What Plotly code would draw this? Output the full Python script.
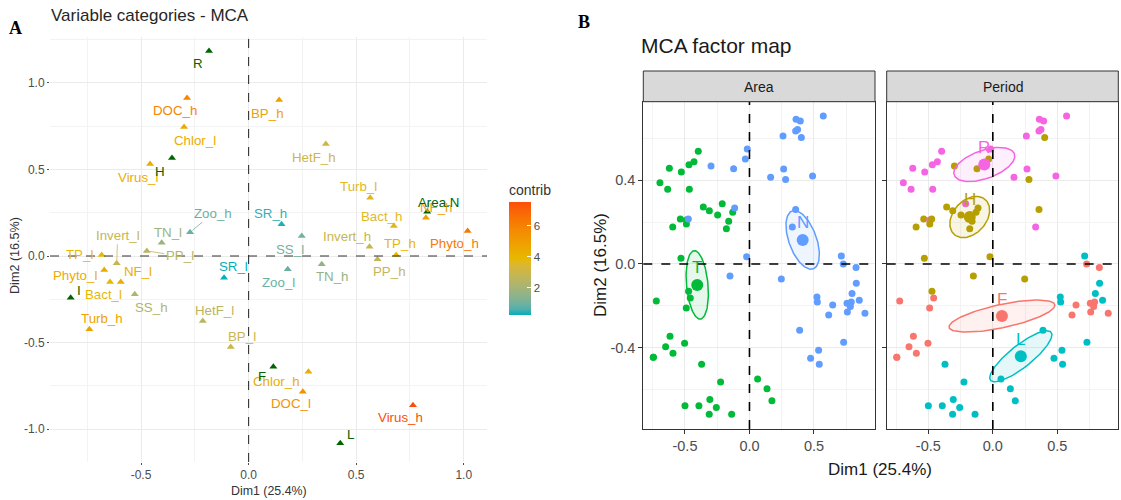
import numpy as np
import plotly.graph_objects as go

W, H = 1121, 500

# ---------------- Panel A: variable categories ----------------
cat_names = ["DOC_h", "Chlor_l", "Virus_l", "BP_h", "HetF_h", "Turb_l", "Bact_h", "NF_h",
             "Phyto_h", "TP_h", "Invert_h", "PP_h", "SS_l", "SR_h", "Zoo_l", "TN_h",
             "Zoo_h", "TN_l", "PP_l", "Invert_l", "TP_l", "Phyto_l", "NF_l", "Bact_l",
             "SS_h", "Turb_h", "HetF_l", "BP_l", "SR_l", "Chlor_h", "DOC_l", "Virus_h"]
cat_x = [-0.286, -0.300, -0.458, 0.142, 0.359, 0.565, 0.675, 0.824,
         1.018, 0.686, 0.562, 0.599, 0.247, 0.153, 0.182, 0.340,
         -0.272, -0.404, -0.473, -0.613, -0.683, -0.671, -0.594, -0.644,
         -0.529, -0.740, -0.213, -0.083, -0.114, 0.278, 0.252, 0.764]
cat_y = [0.912, 0.744, 0.531, 0.900, 0.646, 0.336, 0.173, 0.221,
         0.144, 0.006, 0.054, -0.019, 0.115, 0.183, -0.077, -0.048,
         0.137, 0.077, 0.029, -0.042, 0.006, -0.081, -0.150, -0.150,
         -0.221, -0.423, -0.375, -0.525, -0.125, -0.668, -0.783, -0.862]
cat_contrib = [5.9, 4.4, 4.3, 4.8, 3.1, 3.7, 3.7, 4.8,
               6.3, 4.0, 2.9, 2.8, 1.1, 0.4, 0.9, 1.6,
               0.9, 1.8, 2.5, 2.9, 3.9, 4.4, 4.3, 3.9,
               2.3, 4.8, 2.5, 3.0, 0.25, 4.3, 5.4, 7.55]

sup_names = ["R", "H", "I", "F", "L", "Area.N"]
sup_x = [-0.184, -0.356, -0.827, 0.115, 0.426, 0.830]
sup_y = [1.183, 0.565, -0.241, -0.639, -1.081, 0.256]

contrib_ticks = [2, 4, 6]
a_xticks = [-0.5, 0.0, 0.5, 1.0]
a_xtick_text = ["-0.5", "0.0", "0.5", "1.0"]
a_yticks = [-1.0, -0.5, 0.0, 0.5, 1.0]
a_ytick_text = ["-1.0", "-0.5", "0.0", "0.5", "1.0"]

# ---------------- Panel B: individuals ----------------
ind_x = [-0.694, -0.634, -0.621, -0.528, -0.466, -0.469, -0.430, -0.397, -0.358, -0.311,
         -0.247, -0.211, -0.130, -0.161, -0.179, -0.536, -0.489, -0.489, -0.595, -0.531,
         -0.472, -0.459, -0.490, -0.722, -0.616, -0.650, -0.593, -0.503, -0.745, -0.745,
         -0.371, -0.224, 0.063, 0.136, 0.174, -0.500, -0.392, -0.307, -0.257, -0.312,
         -0.138,
         -0.298, -0.123, -0.032, -0.017, -0.115, -0.474, -0.022, 0.361, 0.394, 0.358,
         0.373, 0.402, 0.260, 0.572, 0.265, 0.164, 0.280, 0.489, 0.358, 0.332,
         0.712, 0.727, 0.826, -0.151, 0.247, 0.828, 0.795, 0.851, 0.523, 0.526,
         0.645, 0.614, 0.756, 0.789, 0.782, 0.759, 0.895, 0.389, 0.730, 0.536,
         0.474, 0.541]
ind_y = [0.387, 0.356, 0.456, 0.438, 0.356, 0.473, 0.487, 0.537, 0.271, 0.254,
         0.233, 0.287, 0.246, 0.203, 0.168, 0.214, 0.210, 0.190, 0.176, 0.027,
         -0.130, -0.162, -0.210, -0.176, -0.344, -0.394, -0.425, -0.378, -0.444, -0.444,
         -0.478, -0.562, -0.548, -0.594, -0.652, -0.675, -0.675, -0.646, -0.683, -0.716,
         -0.716,
         0.467, 0.454, 0.500, 0.548, 0.267, 0.214, 0.035, 0.690, 0.681, 0.633,
         0.641, 0.603, 0.610, 0.705, 0.452, 0.413, 0.402, 0.419, 0.260, 0.176,
         0.038, 0.000, -0.017, -0.057, -0.071, -0.092, -0.140, -0.173, -0.157, -0.181,
         -0.195, -0.243, -0.187, -0.181, -0.202, -0.229, -0.235, -0.316, -0.373, -0.411,
         -0.449, -0.478]
ind_area = ["T"] * 41 + ["N"] * 42
ind_period = ["R", "R", "R", "R", "R", "R", "R", "R", "H", "H",
              "H", "R", "H", "H", "H", "H", "R", "H", "H", "H",
              "H", "F", "F", "F", "F", "F", "F", "F", "F", "F",
              "L", "L", "L", "L", "L", "L", "L", "L", "L", "L",
              "L",
              "H", "H", "H", "R", "H", "H", "H", "R", "R", "R",
              "R", "H", "R", "R", "R", "R", "H", "R", "H", "R",
              "L", "F", "F", "H", "H", "L", "L", "L", "L", "L",
              "F", "F", "F", "F", "F", "F", "F", "L", "L", "L",
              "L", "L"]
area_levels = ["N", "T"]
period_levels = ["F", "H", "L", "R"]
b_xticks = [-0.5, 0.0, 0.5]
b_xtick_text = ["-0.5", "0.0", "0.5"]
b_yticks = [-0.4, 0.0, 0.4]
b_ytick_text = ["-0.4", "0.0", "0.4"]

dim1_label = "Dim1 (25.4%)"
dim2_label = "Dim2 (16.5%)"

# ---------------- styles ----------------
FONT = "Liberation Sans, Arial, sans-serif"
grad_cols = ["#00AFBB", "#E7B800", "#FC4E07"]
group_cols = {"N": "#619CFF", "T": "#00BA38", "F": "#F8766D", "H": "#B79F00",
              "L": "#00BFC4", "R": "#F564E3"}
SUP_COL = "#006400"

# label offsets in pixels (dx, dy downward, leader segment)
label_off = {
    "R": (-11, 12, False), "DOC_h": (-12, 13, False), "Chlor_l": (11, 13, False),
    "H": (-12, 13, False), "Virus_l": (-12, 14, False), "Zoo_h": (23, -19, True),
    "TP_l": (-22, 0, False), "Invert_l": (1, -28, True), "PP_l": (33, 5, True),
    "TN_l": (6, -10, False), "Phyto_l": (-29, 5, False), "NF_l": (17, -10, False),
    "Bact_l": (-7, 13, False), "I": (8, -7, False), "SS_h": (17, 13, False),
    "Turb_h": (13, -11, False), "HetF_l": (12, -10, False), "BP_l": (11, -10, False),
    "SR_l": (9, -11, False), "F": (-11, 10, False), "Chlor_h": (-32, 10, False),
    "DOC_l": (-12, 12, False), "Virus_h": (-12, 12, False), "L": (10, -9, False),
    "Zoo_l": (-9, 13, False), "TN_h": (11, 12, False), "SS_l": (-12, 13, False),
    "SR_h": (-11, -11, False), "Invert_h": (-23, -10, False), "PP_h": (12, 12, False),
    "TP_h": (4, -11, False), "Phyto_h": (-13, 12, False), "Bact_h": (-12, -10, False),
    "Turb_l": (-12, -11, False), "NF_h": (11, -10, False), "Area.N": (11, -9, False),
    "BP_h": (-12, 13, False), "HetF_h": (-12, 13, False),
}


# ---- Lab-space gradient like ggplot's gradientn ----
def hex2rgb(h):
    h = h.lstrip("#")
    return np.array([int(h[i:i + 2], 16) for i in (0, 2, 4)], float)


M = np.array([[0.4124, 0.3576, 0.1805], [0.2126, 0.7152, 0.0722], [0.0193, 0.1192, 0.9505]])
WP = np.array([0.95047, 1.0, 1.08883])


def rgb2lab(rgb):
    c = rgb / 255.0
    c = np.where(c <= 0.04045, c / 12.92, ((c + 0.055) / 1.055) ** 2.4)
    xyz = M @ c / WP
    f = np.where(xyz > 0.008856, np.cbrt(xyz), 7.787 * xyz + 16 / 116)
    return np.array([116 * f[1] - 16, 500 * (f[0] - f[1]), 200 * (f[1] - f[2])])


def lab2rgb(lab):
    fy = (lab[0] + 16) / 116
    fx = fy + lab[1] / 500
    fz = fy - lab[2] / 200
    f = np.array([fx, fy, fz])
    xyz = np.where(f ** 3 > 0.008856, f ** 3, (f - 16 / 116) / 7.787) * WP
    c = np.linalg.solve(M, xyz)
    c = np.clip(c, 0, 1)
    c = np.where(c <= 0.0031308, 12.92 * c, 1.055 * c ** (1 / 2.4) - 0.055)
    return np.clip(np.round(c * 255), 0, 255).astype(int)


labs = [rgb2lab(hex2rgb(c)) for c in grad_cols]


def grad(t):
    t = min(max(t, 0.0), 1.0)
    if t <= 0.5:
        a, b, u = labs[0], labs[1], t / 0.5
    else:
        a, b, u = labs[1], labs[2], (t - 0.5) / 0.5
    r, g, bb = lab2rgb(a + (b - a) * u)
    return f"rgb({r},{g},{bb})"


cmin, cmax = min(cat_contrib), max(cat_contrib)
cscale = [[i / 20, grad(i / 20)] for i in range(21)]


def ccol(v):
    return grad((v - cmin) / (cmax - cmin))


fig = go.Figure()

# ---------------- Panel A traces ----------------
fig.add_trace(go.Scatter(
    x=cat_x, y=cat_y, mode="markers", xaxis="x", yaxis="y",
    marker=dict(symbol="triangle-up", size=7, color=cat_contrib, colorscale=cscale,
                cmin=cmin, cmax=cmax, showscale=True,
                colorbar=dict(x=509 / W, xanchor="left", xpad=0, ypad=0,
                              y=1 - 315 / H, yanchor="bottom",
                              len=134, lenmode="pixels", thickness=22, outlinewidth=0,
                              tickvals=contrib_ticks, ticks="inside", ticklen=4,
                              tickcolor="white", tickfont=dict(size=11.5, color="#4D4D4D", family=FONT),
                              title=dict(text="contrib", side="top",
                                         font=dict(size=14, color="#333333", family=FONT)))),
    hoverinfo="text", text=cat_names))
fig.add_trace(go.Scatter(
    x=sup_x, y=sup_y, mode="markers", xaxis="x", yaxis="y",
    marker=dict(symbol="triangle-up", size=7, color=SUP_COL), hoverinfo="text", text=sup_names))

annotations = []
for names, xs, ys, cols in [(cat_names, cat_x, cat_y, [ccol(v) for v in cat_contrib]),
                            (sup_names, sup_x, sup_y, [SUP_COL] * len(sup_names))]:
    for n, x, y, c in zip(names, xs, ys, cols):
        dx, dy, seg = label_off[n]
        annotations.append(dict(
            x=x, y=y, xref="x", yref="y", text=n, showarrow=True, ax=dx, ay=dy,
            arrowhead=0, arrowwidth=0.8, standoff=3,
            arrowcolor=c if seg else "rgba(0,0,0,0)",
            font=dict(size=13.3, color=c, family=FONT)))

# ---------------- Panel B traces ----------------
R95 = np.sqrt(5.991464547)


def conf_ellipse(xs, ys, n=120):
    X = np.column_stack([xs, ys])
    c = X.mean(axis=0)
    S = np.cov(X.T) / len(xs)
    vals, vecs = np.linalg.eigh(S)
    t = np.linspace(0, 2 * np.pi, n)
    circ = np.vstack([np.cos(t), np.sin(t)])
    pts = c[:, None] + R95 * (vecs @ (np.sqrt(vals)[:, None] * circ))
    return c, pts[0], pts[1]


def rgba(h, a):
    r, g, b = hex2rgb(h).astype(int)
    return f"rgba({r},{g},{b},{a})"


ix = np.array(ind_x)
iy = np.array(ind_y)
for axn, groups, levels in [("2", ind_area, area_levels), ("3", ind_period, period_levels)]:
    g = np.array(groups)
    fig.add_trace(go.Scatter(
        x=ix, y=iy, mode="markers", xaxis="x" + axn, yaxis="y" + axn,
        marker=dict(size=7, color=[group_cols[v] for v in groups]), hoverinfo="skip"))
    for lev in levels:
        m = g == lev
        c, ex, ey = conf_ellipse(ix[m], iy[m])
        col = group_cols[lev]
        fig.add_trace(go.Scatter(
            x=ex, y=ey, mode="lines", fill="toself", fillcolor=rgba(col, 0.1),
            line=dict(color=col, width=1.5), xaxis="x" + axn, yaxis="y" + axn, hoverinfo="skip"))
        fig.add_trace(go.Scatter(
            x=[c[0]], y=[c[1]], mode="markers", marker=dict(size=12, color=col),
            xaxis="x" + axn, yaxis="y" + axn, hoverinfo="skip"))
        annotations.append(dict(
            x=c[0], y=c[1], xref="x" + axn, yref="y" + axn, text=lev, showarrow=False,
            yshift=17, font=dict(size=17, color=col, family=FONT)))

# ---------------- axes ----------------
gridA = dict(showgrid=True, gridcolor="#EBEBEB", gridwidth=1, zeroline=False, showline=False,
             ticks="outside", ticklen=2, tickcolor="#4D4D4D",
             tickfont=dict(size=12, color="#4D4D4D", family=FONT))
ax_range_B = [-0.823, 0.973]
ay_range_B = [-0.786, 0.773]
gridB = dict(showgrid=True, gridcolor="#EBEBEB", gridwidth=1, zeroline=False, showline=True,
             mirror=True, linecolor="#333333", linewidth=1, ticks="outside", ticklen=4,
             tickcolor="#333333", tickfont=dict(size=14.5, color="#4D4D4D", family=FONT))
minorA = dict(dtick=0.25, tick0=0, showgrid=True, gridcolor="#F3F3F3", gridwidth=0.6)
minorBx = dict(dtick=0.25, tick0=0, showgrid=True, gridcolor="#F3F3F3", gridwidth=0.6)
minorBy = dict(dtick=0.2, tick0=0, showgrid=True, gridcolor="#F3F3F3", gridwidth=0.6)

fig.update_layout(
    width=W, height=H, margin=dict(l=0, r=0, t=0, b=0),
    paper_bgcolor="white", plot_bgcolor="white", showlegend=False,
    font=dict(family=FONT),
    xaxis=dict(domain=[50 / W, 487 / W], range=[-0.923, 1.108], tickmode="array",
               tickvals=a_xticks, ticktext=a_xtick_text, minor=minorA, anchor="y", **gridA),
    yaxis=dict(domain=[1 - 462 / H, 1 - 37 / H], range=[-1.189, 1.264], tickmode="array",
               tickvals=a_yticks, ticktext=a_ytick_text, minor=minorA, anchor="x", **gridA),
    xaxis2=dict(domain=[643.3 / W, 875 / W], range=ax_range_B, tickmode="array",
                tickvals=b_xticks, ticktext=b_xtick_text, minor=minorBx, anchor="y2", **gridB),
    yaxis2=dict(domain=[1 - 429 / H, 1 - 101.7 / H], range=ay_range_B, tickmode="array",
                tickvals=b_yticks, ticktext=b_ytick_text, minor=minorBy, anchor="x2", **gridB),
    xaxis3=dict(domain=[886.7 / W, 1118.3 / W], range=ax_range_B, tickmode="array",
                tickvals=b_xticks, ticktext=b_xtick_text, minor=minorBx, anchor="y3", **gridB),
    yaxis3=dict(domain=[1 - 429 / H, 1 - 101.7 / H], range=ay_range_B, tickmode="array",
                tickvals=b_yticks, ticktext=b_ytick_text, minor=minorBy, anchor="x3",
                showticklabels=False, **gridB),
)

shapes = []
# dashed reference lines
shapes.append(dict(type="line", xref="x", yref="y domain", x0=0, x1=0, y0=0, y1=1,
                   line=dict(color="#333333", width=1.1, dash="dash")))
shapes.append(dict(type="line", xref="x domain", yref="y", x0=0, x1=1, y0=0, y1=0,
                   line=dict(color="#333333", width=1.1, dash="dash")))
for axn in ["2", "3"]:
    shapes.append(dict(type="line", xref="x" + axn, yref="y" + axn + " domain", x0=0, x1=0, y0=0, y1=1,
                       line=dict(color="black", width=1.6, dash="dash")))
    shapes.append(dict(type="line", xref="x" + axn + " domain", yref="y" + axn, x0=0, x1=1, y0=0, y1=0,
                       line=dict(color="black", width=1.6, dash="dash")))
# facet strips
for x0, x1, lab in [(643.3, 875, "Area"), (886.7, 1118.3, "Period")]:
    shapes.append(dict(type="rect", xref="paper", yref="paper", x0=x0 / W, x1=x1 / W,
                       y0=1 - 101.7 / H, y1=1 - 71 / H, fillcolor="#D9D9D9",
                       line=dict(color="#333333", width=1), layer="above"))
    annotations.append(dict(x=(x0 + x1) / 2 / W, y=1 - 86.5 / H, xref="paper", yref="paper",
                            text=lab, showarrow=False, xanchor="center", yanchor="middle",
                            font=dict(size=14, color="#1A1A1A", family=FONT)))


# titles and axis titles
def pa(text, x, y, size, color="#1A1A1A", xanchor="center", angle=0, family=FONT):
    annotations.append(dict(x=x / W, y=1 - y / H, xref="paper", yref="paper", text=text,
                            showarrow=False, xanchor=xanchor, yanchor="middle", textangle=angle,
                            font=dict(size=size, color=color, family=family)))


pa("<b>A</b>", 15, 28, 18, "black", family="Liberation Serif, Times New Roman, serif")
pa("<b>B</b>", 584, 22, 18, "black", family="Liberation Serif, Times New Roman, serif")
pa("Variable categories - MCA", 49, 15, 17, "#262626", xanchor="left")
pa(dim1_label, 268.5, 491, 12.4, "#333333")
pa(dim2_label, 15, 256, 12.6, "#333333", angle=-90)
pa("MCA factor map", 639, 46, 21, "#1A1A1A", xanchor="left")
pa(dim1_label, 880, 469, 17, "#1A1A1A")
pa(dim2_label, 600, 265, 17, "#1A1A1A", angle=-90)

fig.update_layout(shapes=shapes, annotations=annotations)
fig.write_html("out.html")
